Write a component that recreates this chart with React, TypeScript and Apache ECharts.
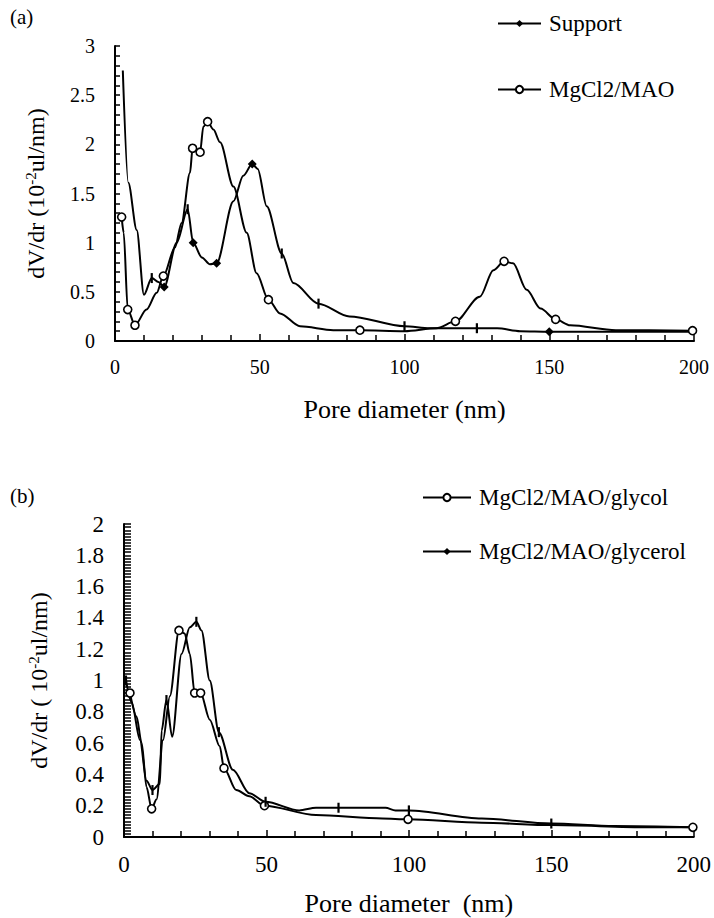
import React, { useEffect, useRef } from "react";
import * as echarts from "echarts";

// ---------- data: chart (a) ----------
const supportCurve: [number, number][] = [
  [2.7, 2.75], [4.6, 1.61], [7.5, 1.13], [10, 0.47], [12.7, 0.64], [15, 0.6], [17, 0.55],
  [21.3, 1.0], [25.1, 1.34], [27, 1.0], [30, 0.85], [32.8, 0.78], [35.1, 0.79], [40.9, 1.42],
  [44.3, 1.68], [47.4, 1.8], [49.3, 1.75], [52.4, 1.37], [57.6, 0.89], [61.6, 0.59],
  [70.3, 0.38], [81, 0.25], [100, 0.15], [108.8, 0.13], [125, 0.13], [132, 0.13],
  [140, 0.1], [150, 0.095], [175, 0.095], [200, 0.095],
];
const supportDiamonds: [number, number][] = [
  [17, 0.55], [27, 1.0], [35.1, 0.79], [47.4, 1.8], [150, 0.095],
];
const supportDashes: [number, number][] = [
  [12.7, 0.64], [25.1, 1.34], [57.6, 0.89], [70.3, 0.38], [100, 0.15], [125, 0.13],
];
const mgCurve: [number, number][] = [
  [2.3, 1.26], [3, 1.1], [4.4, 0.32], [6.9, 0.16], [10.9, 0.32], [14.4, 0.49], [16.7, 0.66],
  [20.7, 0.95], [23, 1.2], [25.9, 1.71], [26.8, 1.96], [29.4, 1.92], [30.5, 2.18], [32, 2.23],
  [34, 2.15], [36.3, 2.02], [40.9, 1.57], [45.5, 1.1], [48.9, 0.69], [53, 0.42], [57, 0.28],
  [63.9, 0.15], [75.4, 0.11], [84.6, 0.11], [100, 0.1], [111, 0.13], [117.6, 0.2],
  [126, 0.45], [130.7, 0.72], [134.4, 0.81], [137.5, 0.79], [142.2, 0.52], [147, 0.33],
  [152.2, 0.22], [157.2, 0.16], [173, 0.11], [199.5, 0.105],
];
const mgCircles: [number, number][] = [
  [2.3, 1.26], [4.4, 0.32], [6.9, 0.16], [16.7, 0.66], [26.8, 1.96], [29.4, 1.92], [32, 2.23],
  [53, 0.42], [84.6, 0.11], [117.6, 0.2], [134.4, 0.81], [152.2, 0.22], [199.5, 0.105],
];

// ---------- data: chart (b) ----------
const glycolCurve: [number, number][] = [
  [2.1, 0.92], [4.4, 0.77], [6.2, 0.6], [7.9, 0.32], [9.7, 0.18], [11.4, 0.24], [13.7, 0.62],
  [16.1, 0.9], [19.3, 1.32], [21.3, 1.3], [23.1, 1.17], [24.8, 0.92], [26.9, 0.92], [30.1, 0.75],
  [33.6, 0.58], [35.1, 0.44], [39.4, 0.3], [44, 0.26], [49.3, 0.2], [67.4, 0.14], [90.7, 0.118],
  [99.7, 0.113], [125.6, 0.091], [150, 0.076], [184, 0.062], [199.7, 0.062],
];
const glycolCircles: [number, number][] = [
  [2.1, 0.92], [9.7, 0.18], [19.3, 1.32], [24.8, 0.92], [26.9, 0.92], [35.1, 0.44],
  [49.3, 0.2], [99.7, 0.113], [199.7, 0.062],
];
const glycerolCurve: [number, number][] = [
  [0.7, 1.0], [2.7, 0.86], [5.6, 0.62], [7.9, 0.36], [10, 0.3], [12.6, 0.34], [13.2, 0.68],
  [14.9, 0.875], [16.9, 0.64], [20.2, 1.17], [23.1, 1.34], [25.4, 1.375], [27.2, 1.32],
  [30.1, 1.0], [33.3, 0.67], [38.2, 0.43], [44, 0.28], [49.7, 0.225], [61.5, 0.17],
  [67.4, 0.187], [75.3, 0.187], [91.8, 0.187], [95.3, 0.17], [100, 0.17], [125.6, 0.118],
  [150, 0.086], [172, 0.07], [200, 0.062],
];
const glycerolDashes: [number, number][] = [
  [0.7, 1.0], [10, 0.3], [14.9, 0.875], [25.4, 1.375], [33.3, 0.67], [49.7, 0.225],
  [75.3, 0.187], [100, 0.17], [150, 0.086],
];

const seriesNamesA = ["Support", "MgCl2/MAO"];
const seriesNamesB = ["MgCl2/MAO/glycol", "MgCl2/MAO/glycerol"];
const xTitleA = "Pore diameter (nm)";
const xTitleB = "Pore diameter  (nm)";
const yTitleA = "{t|dV/dr (10}{s|-2}{t|ul/nm)}";
const yTitleB = "{t|dV/dr ( 10}{s|-2}{t|ul/nm)}";

const FONT = '"Liberation Serif", "Times New Roman", serif';
const BLACK = "#000";

function xAxisCfg(grid: number, name: string, fontSize: number, gap: number) {
  return {
    gridIndex: grid,
    type: "value",
    min: 0,
    max: 200,
    interval: 50,
    axisLine: { lineStyle: { color: BLACK, width: 2 } },
    axisTick: { inside: true, length: 7, lineStyle: { color: BLACK, width: 1.5 } },
    minorTick: { show: true, splitNumber: 5, length: 6, lineStyle: { color: BLACK, width: 1.5 } },
    splitLine: { show: false },
    axisLabel: { color: BLACK, fontFamily: FONT, fontSize, margin: 16 },
    name,
    nameLocation: "middle",
    nameGap: gap,
    nameTextStyle: { color: BLACK, fontFamily: FONT, fontSize: 26 },
  };
}

function yAxisCfg(grid: number, max: number, interval: number, minorSplit: number, name: string,
  fontSize: number, gap: number, tickLen: number) {
  return {
    gridIndex: grid,
    type: "value",
    min: 0,
    max,
    interval,
    axisLine: { show: true, lineStyle: { color: BLACK, width: 2 } },
    axisTick: { show: true, inside: true, length: tickLen, lineStyle: { color: BLACK, width: 1.5 } },
    minorTick: { show: true, splitNumber: minorSplit, length: tickLen, lineStyle: { color: BLACK, width: 1.5 } },
    splitLine: { show: false },
    axisLabel: { color: BLACK, fontFamily: FONT, fontSize, margin: 20 },
    name,
    nameLocation: "middle",
    nameRotate: 90,
    nameGap: gap,
    nameTextStyle: {
      rich: {
        t: { fontFamily: FONT, fontSize: 24, color: BLACK, lineHeight: 26 },
        s: { fontFamily: FONT, fontSize: 15, color: BLACK, verticalAlign: "top", lineHeight: 15 },
      },
    },
  };
}

function curve(name: string, data: [number, number][], idx: number, symbol: string) {
  return {
    type: "line",
    name,
    xAxisIndex: idx,
    yAxisIndex: idx,
    data,
    smooth: 0.3,
    smoothMonotone: "x",
    symbol,
    showSymbol: false,
    lineStyle: { color: BLACK, width: 2 },
    itemStyle: { color: BLACK, borderColor: BLACK },
    z: 2,
  };
}

function marks(name: string, data: [number, number][], idx: number, kind: string) {
  const base: any = {
    type: "scatter",
    name,
    xAxisIndex: idx,
    yAxisIndex: idx,
    data,
    z: 3,
    silent: true,
  };
  if (kind === "circle") {
    base.symbol = "circle";
    base.symbolSize = 8;
    base.itemStyle = { color: "#fff", borderColor: BLACK, borderWidth: 1.6, opacity: 1 };
  } else if (kind === "diamond") {
    base.symbol = "diamond";
    base.symbolSize = 9;
    base.itemStyle = { color: BLACK, opacity: 1 };
  } else {
    base.symbol = "rect";
    base.symbolSize = [2.2, 10];
    base.itemStyle = { color: BLACK, opacity: 1 };
  }
  return base;
}

export default function App() {
  const ref = useRef<HTMLDivElement>(null);
  useEffect(() => {
    if (!ref.current) return;
    const chart = echarts.init(ref.current, undefined, { renderer: "svg" });
    chart.setOption({
      animation: false,
      backgroundColor: "#fff",
      textStyle: { fontFamily: FONT },
      grid: [
        { left: 115, top: 46, width: 579, height: 295 },
        { left: 124, top: 524, width: 572, height: 313 },
      ],
      xAxis: [xAxisCfg(0, xTitleA, 20, 55), xAxisCfg(1, xTitleB, 23, 53)],
      yAxis: [
        yAxisCfg(0, 3, 0.5, 5, yTitleA, 20, 66, 5),
        yAxisCfg(1, 2, 0.2, 10, yTitleB, 23, 72, 7),
      ],
      legend: [
        {
          data: seriesNamesA,
          orient: "vertical",
          left: 497,
          top: 12,
          padding: 0,
          itemGap: 43,
          itemWidth: 43,
          itemHeight: 9,
          textStyle: { color: BLACK, fontFamily: FONT, fontSize: 23, padding: [0, 0, 0, 3] },
        },
        {
          data: seriesNamesB,
          orient: "vertical",
          left: 422,
          top: 486,
          padding: 0,
          itemGap: 31,
          itemWidth: 48,
          itemHeight: 9,
          textStyle: { color: BLACK, fontFamily: FONT, fontSize: 23, padding: [0, 0, 0, 3] },
        },
      ],
      graphic: [
        { type: "text", left: 10, top: 6, style: { text: "(a)", fontFamily: FONT, fontSize: 21, fill: BLACK } },
        { type: "text", left: 10, top: 485, style: { text: "(b)", fontFamily: FONT, fontSize: 21, fill: BLACK } },
      ],
      series: [
        curve(seriesNamesA[0], supportCurve, 0, "diamond"),
        curve(seriesNamesA[1], mgCurve, 0, "emptyCircle"),
        marks("support-diamonds", supportDiamonds, 0, "diamond"),
        marks("support-dashes", supportDashes, 0, "dash"),
        marks("mg-circles", mgCircles, 0, "circle"),
        curve(seriesNamesB[0], glycolCurve, 1, "emptyCircle"),
        curve(seriesNamesB[1], glycerolCurve, 1, "diamond"),
        marks("glycol-circles", glycolCircles, 1, "circle"),
        marks("glycerol-dashes", glycerolDashes, 1, "dash"),
      ],
    });
    return () => chart.dispose();
  }, []);
  return (
    <div
      ref={ref}
      style={{ position: "fixed", left: 0, top: 0, width: 714, height: 918, background: "#fff" }}
    />
  );
}
